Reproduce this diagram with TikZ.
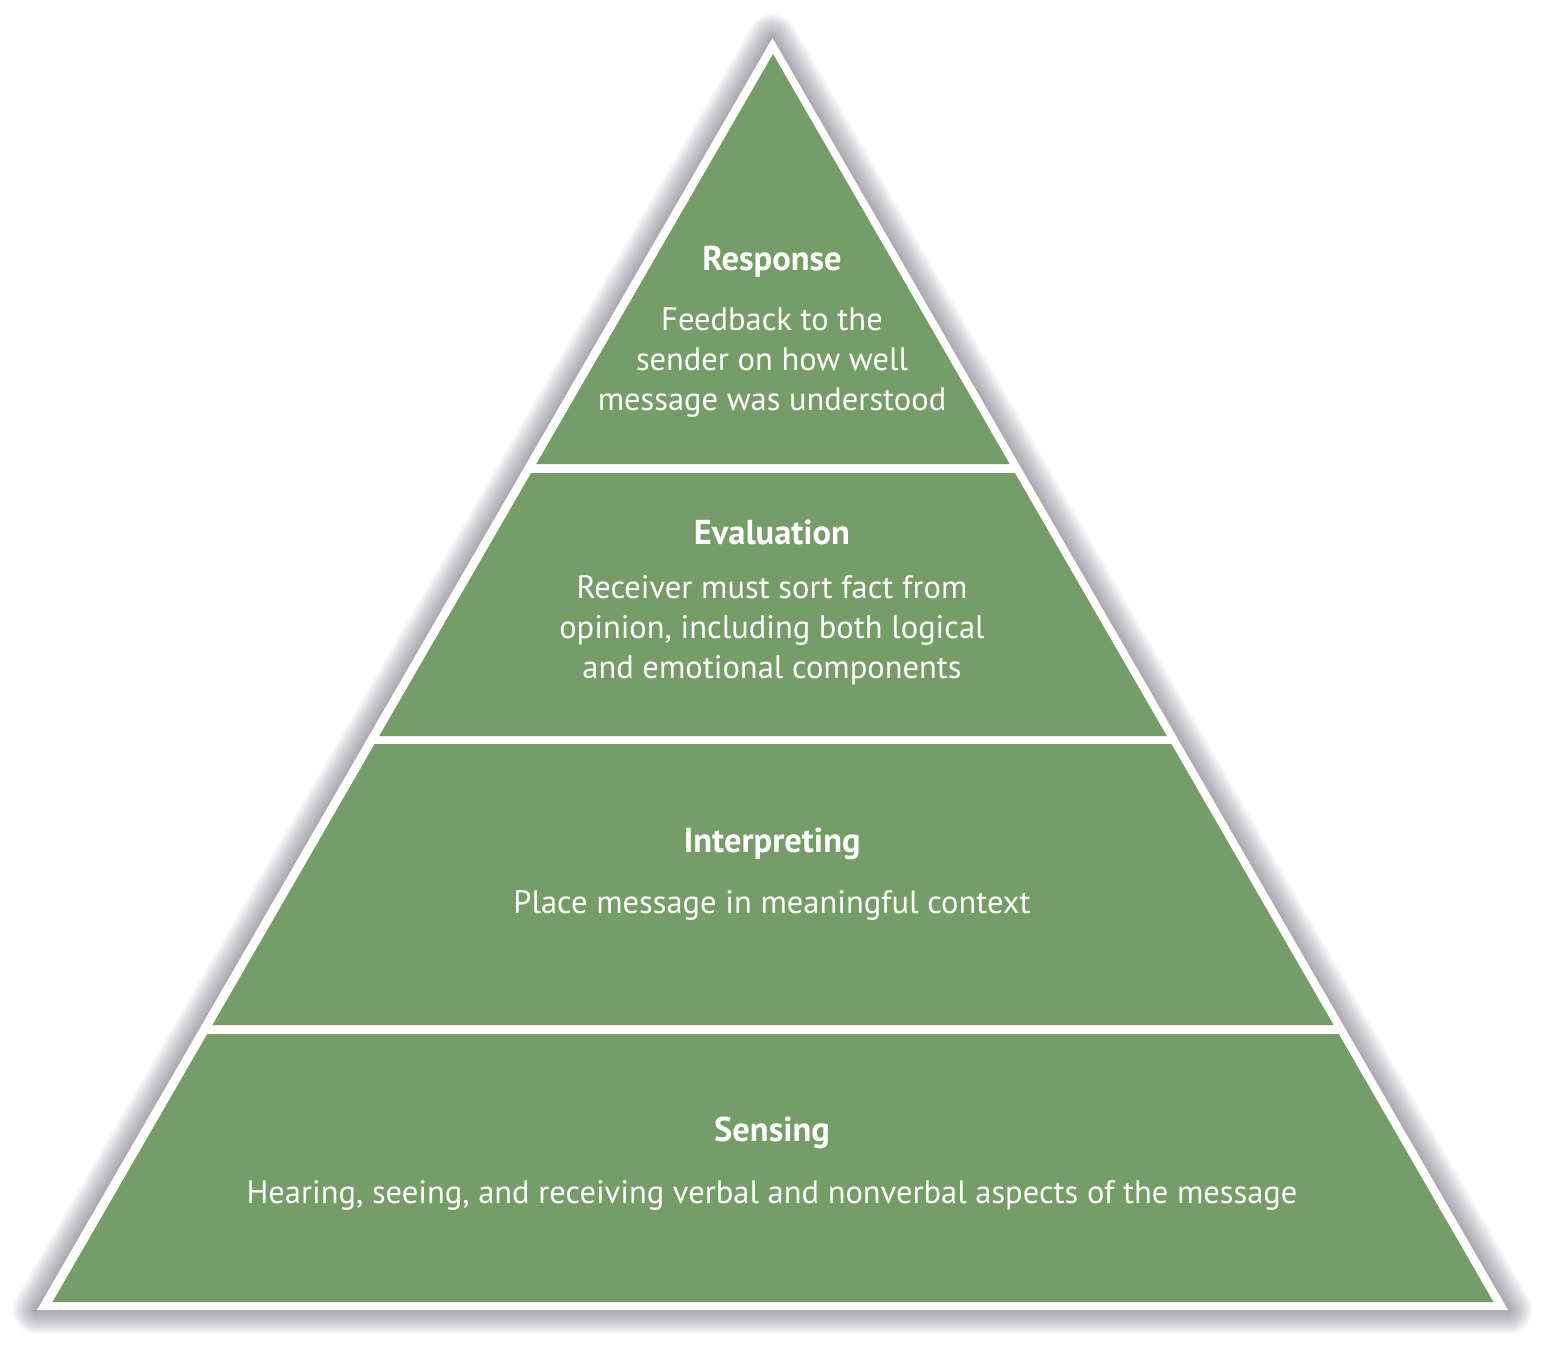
\documentclass[tikz,border=0pt]{standalone}
\usepackage{fontspec}
\setmainfont{PT Sans}
\definecolor{levelgreen}{RGB}{118,157,104}
\definecolor{shadowgray}{RGB}{50,50,66}
\begin{document}
\begin{tikzpicture}[x=1pt,y=-1pt,
  band/.style={fill=levelgreen,draw=none},
  shadowring/.style={draw=shadowgray,line join=round,draw opacity=0.042},
  leveltitle/.style={text=white,font=\fontsize{34.5}{40}\selectfont\bfseries,inner sep=0pt,anchor=base},
  levelbody/.style={text=white,font=\fontsize{32.5}{40}\selectfont,align=center,inner sep=0pt,anchor=center}]
\useasboundingbox (0,0) rectangle (1546,1349);
\coordinate (apex) at (772.5,38);
\coordinate (bright) at (1508,1310);
\coordinate (bleft) at (37,1310);
\begin{scope}[yshift=-5pt]
\foreach \w in {4,8,...,48}
  \draw[shadowring,line width=\w pt] (apex) -- (bright) -- (bleft) -- cycle;
\end{scope}
\fill[white] (apex) -- (bright) -- (bleft) -- cycle;
\fill[band] (773,54) -- (1009.7,464) -- (536.3,464) -- cycle;
\fill[band] (531.1,473) -- (1014.9,473) -- (1166.8,736) -- (379.2,736) -- cycle;
\fill[band] (374.6,744) -- (1171.4,744) -- (1333.6,1025) -- (212.4,1025) -- cycle;
\fill[band] (207.2,1034) -- (1338.8,1034) -- (1493.5,1302) -- (52.5,1302) -- cycle;
\node[leveltitle] (t1) at (772,270) {Response};
\node[levelbody] (b1) at (772,363) {Feedback to the\\sender on how well\\message was understood};
\node[leveltitle] (t2) at (772,544) {Evaluation};
\node[levelbody] (b2) at (772,630) {Receiver must sort fact from\\opinion, including both logical\\and emotional components};
\node[leveltitle] (t3) at (772,852) {Interpreting};
\node[levelbody] (b3) at (772,905) {Place message in meaningful context};
\node[leveltitle] (t4) at (772,1141) {Sensing};
\node[levelbody] (b4) at (772,1195) {Hearing, seeing, and receiving verbal and nonverbal aspects of the message};
\end{tikzpicture}
\end{document}
